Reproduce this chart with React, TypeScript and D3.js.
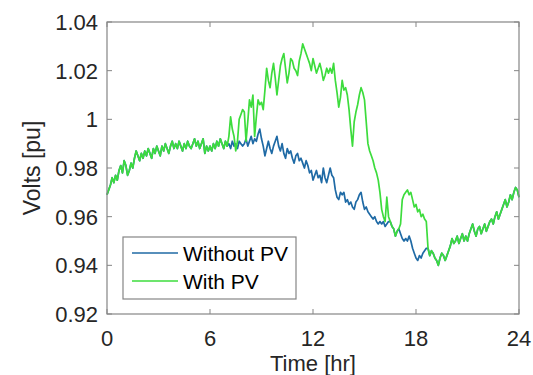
import React from "react";
import * as d3 from "d3";

// hourly sampling every 0.1 hr
const STEP = 0.1;

// 0.0 - 6.9 hr, identical for both cases
const sharedMorning = [
  0.969, 0.971, 0.973, 0.976, 0.974, 0.977, 0.975, 0.979, 0.981, 0.978,
  0.983, 0.981, 0.977, 0.979, 0.982, 0.980, 0.984, 0.987, 0.985, 0.983,
  0.986, 0.984, 0.987, 0.985, 0.988, 0.986, 0.984, 0.988, 0.986, 0.989,
  0.987, 0.985, 0.989, 0.987, 0.990, 0.988, 0.986, 0.989, 0.991, 0.988,
  0.990, 0.988, 0.991, 0.989, 0.987, 0.990, 0.988, 0.991, 0.989, 0.988,
  0.990, 0.992, 0.989, 0.991, 0.988, 0.990, 0.992, 0.986, 0.989, 0.987,
  0.989, 0.987, 0.990, 0.988, 0.991, 0.989, 0.992, 0.990, 0.988, 0.991,
];

// 7.0 - 18.9 hr
const withPvDay = [
  0.989, 0.993, 1.001, 0.996, 0.993, 0.987, 0.991, 1.000, 1.002, 1.004,
  1.003, 0.991, 0.999, 1.008, 1.005, 1.010, 0.993, 1.001, 1.008, 1.006,
  1.007, 1.004, 1.012, 1.021, 1.016, 1.013, 1.019, 1.023, 1.017, 1.010,
  1.016, 1.022, 1.025, 1.027, 1.021, 1.015, 1.019, 1.025, 1.024, 1.021,
  1.020, 1.018, 1.024, 1.027, 1.031, 1.029, 1.027, 1.025, 1.023, 1.020,
  1.025, 1.022, 1.019, 1.021, 1.023, 1.020, 1.016, 1.018, 1.021, 1.019,
  1.021, 1.019, 1.023, 1.016, 1.011, 1.005, 1.009, 1.016, 1.012, 1.013,
  1.010, 1.004, 0.996, 0.989, 0.999, 1.003, 1.006, 1.010, 1.013, 1.011,
  1.008, 0.999, 0.990, 0.987, 0.985, 0.983, 0.980, 0.978, 0.975, 0.970,
  0.963, 0.960, 0.958, 0.968, 0.960, 0.958, 0.956, 0.955, 0.952, 0.954,
  0.955, 0.957, 0.967, 0.969, 0.970, 0.971, 0.969, 0.970, 0.967, 0.964,
  0.965, 0.962, 0.963, 0.960, 0.961, 0.959, 0.958, 0.947, 0.944, 0.946,
];

const withoutPvDay = [
  0.989, 0.990, 0.988, 0.991, 0.989, 0.990, 0.988, 0.991, 0.990, 0.989,
  0.990, 0.992, 0.989, 0.991, 0.993, 0.990, 0.992, 0.991, 0.994, 0.996,
  0.992, 0.989, 0.985, 0.988, 0.991, 0.988, 0.986, 0.989, 0.991, 0.993,
  0.989, 0.987, 0.990, 0.986, 0.984, 0.988, 0.986, 0.987, 0.984, 0.982,
  0.985, 0.986, 0.983, 0.984, 0.982, 0.980, 0.983, 0.981, 0.978, 0.979,
  0.975, 0.977, 0.979, 0.976, 0.977, 0.974, 0.980, 0.976, 0.974, 0.977,
  0.980, 0.977, 0.976, 0.971, 0.968, 0.967, 0.970, 0.969, 0.970, 0.966,
  0.967, 0.965, 0.966, 0.964, 0.963, 0.966, 0.967, 0.969, 0.970, 0.966,
  0.963, 0.964, 0.962, 0.961, 0.960, 0.959, 0.960, 0.958, 0.957, 0.958,
  0.957, 0.958, 0.956, 0.957, 0.958, 0.958, 0.956, 0.955, 0.952, 0.954,
  0.955, 0.953, 0.951, 0.950, 0.951, 0.950, 0.952, 0.950, 0.947, 0.945,
  0.943, 0.942, 0.944, 0.943, 0.945, 0.946, 0.947, 0.947, 0.944, 0.946,
];

// 19.0 - 24.0 hr, identical again
const sharedEvening = [
  0.945, 0.943, 0.942, 0.940, 0.943, 0.945, 0.944, 0.942, 0.944, 0.946,
  0.948, 0.951, 0.949, 0.950, 0.952, 0.949, 0.951, 0.953, 0.950, 0.952,
  0.950, 0.953, 0.955, 0.957, 0.954, 0.952, 0.955, 0.956, 0.953, 0.955,
  0.957, 0.954, 0.956, 0.958, 0.959, 0.957, 0.960, 0.962, 0.959, 0.961,
  0.963, 0.965, 0.967, 0.964, 0.966, 0.969, 0.967, 0.970, 0.972, 0.971,
  0.968,
];

const withoutPv = [...sharedMorning, ...withoutPvDay, ...sharedEvening];
const withPv = [...sharedMorning, ...withPvDay, ...sharedEvening];

const xTicks = [0, 6, 12, 18, 24];
const yTicks = [0.92, 0.94, 0.96, 0.98, 1.0, 1.02, 1.04];

const seriesNames = ["Without PV", "With PV"];
const colors = ["#1f6aa5", "#3ddc3d"];

const W = 533;
const H = 375;
const margin = { left: 107, right: 14, top: 22, bottom: 61 };
const font = "'Liberation Sans', Arial, Helvetica, sans-serif";
const axisColor = "#858585";
const textColor = "#262626";

export default function App() {
  const x = d3.scaleLinear().domain([0, 24]).range([margin.left, W - margin.right]);
  const y = d3.scaleLinear().domain([0.92, 1.04]).range([H - margin.bottom, margin.top]);
  const line = d3
    .line<number>()
    .x((_, i) => x(i * STEP))
    .y((d) => y(d));

  const x0 = x.range()[0];
  const x1 = x.range()[1];
  const y0 = y.range()[0];
  const y1 = y.range()[1];
  const tk = 5;

  const legX = 123;
  const legY = 237;
  const legW = 173;
  const legH = 62;

  return (
    <div style={{ position: "absolute", left: 0, top: 0 }}>
      <svg width={W} height={H} style={{ display: "block", background: "#fff" }} fontFamily={font}>
        <rect x={0} y={0} width={W} height={H} fill="#fff" />
        <path d={line(withoutPv) ?? ""} fill="none" stroke={colors[0]} strokeWidth={1.7} strokeLinejoin="round" />
        <path d={line(withPv) ?? ""} fill="none" stroke={colors[1]} strokeWidth={1.7} strokeLinejoin="round" />

        {/* axes box with inward ticks */}
        <rect x={x0} y={y1} width={x1 - x0} height={y0 - y1} fill="none" stroke={axisColor} strokeWidth={1.2} />
        {xTicks.map((t) => (
          <g key={"x" + t}>
            <line x1={x(t)} x2={x(t)} y1={y0} y2={y0 - tk} stroke={axisColor} />
            <line x1={x(t)} x2={x(t)} y1={y1} y2={y1 + tk} stroke={axisColor} />
            <text x={x(t)} y={y0 + 32} textAnchor="middle" fontSize={22} fill={textColor}>
              {t}
            </text>
          </g>
        ))}
        {yTicks.map((t) => (
          <g key={"y" + t}>
            <line x1={x0} x2={x0 + tk} y1={y(t)} y2={y(t)} stroke={axisColor} />
            <line x1={x1} x2={x1 - tk} y1={y(t)} y2={y(t)} stroke={axisColor} />
            <text x={x0 - 9} y={y(t) + 8} textAnchor="end" fontSize={22} fill={textColor}>
              {d3.format("~g")(+t.toFixed(2))}
            </text>
          </g>
        ))}

        <text x={(x0 + x1) / 2} y={371} textAnchor="middle" fontSize={22} fill={textColor}>
          Time [hr]
        </text>
        <text
          transform={`translate(40, ${(y0 + y1) / 2}) rotate(-90)`}
          textAnchor="middle"
          fontSize={23}
          fill={textColor}
        >
          Volts [pu]
        </text>

        {/* legend */}
        <rect x={legX} y={legY} width={legW} height={legH} fill="#fff" stroke={axisColor} strokeWidth={1.2} />
        {seriesNames.map((name, i) => (
          <g key={name}>
            <line
              x1={legX + 9}
              x2={legX + 55}
              y1={legY + 16 + i * 28}
              y2={legY + 16 + i * 28}
              stroke={colors[i]}
              strokeWidth={1.6}
            />
            <text x={legX + 60} y={legY + 24 + i * 28} fontSize={21} fill="#000">
              {name}
            </text>
          </g>
        ))}
      </svg>
    </div>
  );
}
